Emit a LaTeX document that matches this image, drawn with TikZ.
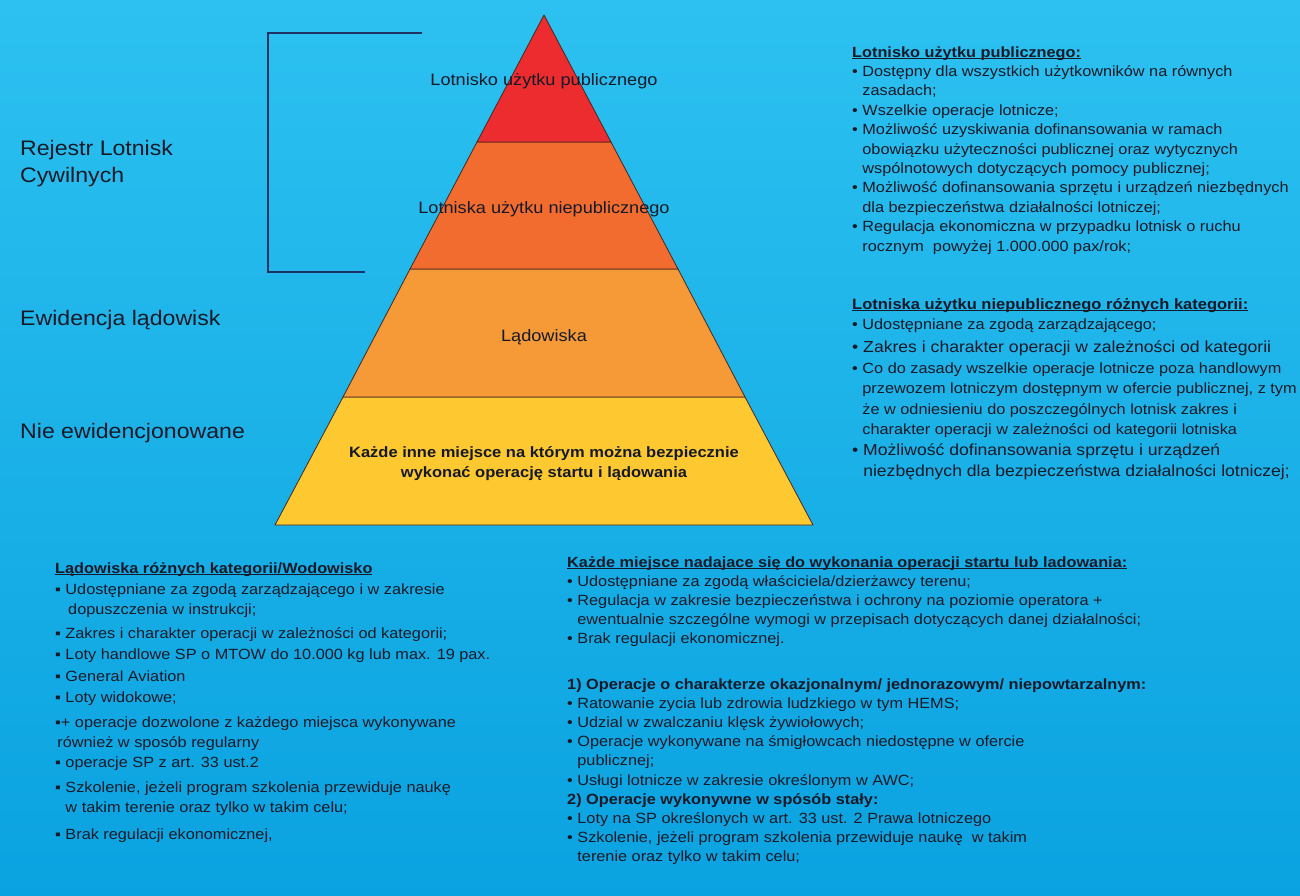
\documentclass[tikz,border=0pt]{standalone}
\usepackage{fontspec}
\setmainfont{Liberation Sans}
\usepackage{graphicx}
\definecolor{bgtop}{RGB}{44,193,240}
\definecolor{bgbot}{RGB}{10,162,224}
\definecolor{txt}{RGB}{22,26,40}
\definecolor{layA}{RGB}{236,44,46}
\definecolor{layB}{RGB}{242,108,48}
\definecolor{layC}{RGB}{246,154,56}
\definecolor{layD}{RGB}{253,200,48}
\definecolor{brk}{RGB}{30,50,100}
\newcommand{\sx}[1]{\scalebox{1.1}[1]{#1}}
\newcommand{\tb}[1]{\sx{\begin{tabular}[t]{@{}l@{}}#1\end{tabular}}}
\newcommand{\ulh}[1]{\setbox0\hbox{#1}\rlap{\rule[-2pt]{\wd0}{0.9pt}}\box0}
\newcommand{\ind}{\phantom{• }}
\renewcommand{\arraystretch}{1}
\tikzset{
  layer/.style={draw={rgb,255:red,70;green,40;blue,30}, line width=0.8pt, line join=round},
  plabel/.style={text=txt, inner sep=0pt, anchor=base, font=\fontsize{16.5}{20}\selectfont},
  side/.style={text=txt, inner sep=0pt, anchor=base west, font=\fontsize{21}{27}\selectfont},
  blk/.style={text=txt, inner sep=0pt, anchor=base west},
  bracket/.style={draw=brk, line width=1.2pt}
}
\begin{document}
\begin{tikzpicture}[x=1pt,y=-1pt]
\fill[top color=bgtop,bottom color=bgbot] (0,0) rectangle (1300,895);
\useasboundingbox (0,0) rectangle (1300,895);
% pyramid
\coordinate (apex) at (544,15);
\draw[layer, fill=layD] (343,397) -- (745,397) -- (813,525) -- (275,525) -- cycle;
\draw[layer, fill=layC] (410,269) -- (678,269) -- (745,397) -- (343,397) -- cycle;
\draw[layer, fill=layB] (477,142) -- (611,142) -- (678,269) -- (410,269) -- cycle;
\draw[layer, fill=layA] (apex) -- (611,142) -- (477,142) -- cycle;
\node[plabel] (l1) at (544,85) {\sx{Lotnisko użytku publicznego}};
\node[plabel] (l2) at (544,213) {\sx{Lotniska użytku niepublicznego}};
\node[plabel] (l3) at (544,341) {\sx{Lądowiska}};
\node[plabel, font=\fontsize{15}{20}\selectfont\bfseries] (l4) at (544,457) {\sx{Każde inne miejsce na którym można bezpiecznie}};
\node[plabel, font=\fontsize{15}{20}\selectfont\bfseries] (l5) at (544,477) {\sx{wykonać operację startu i lądowania}};
% bracket
\coordinate (bt) at (268,33);
\coordinate (btr) at (422,33);
\coordinate (bb) at (268,272);
\coordinate (bbr) at (365,272);
\draw[bracket] (btr) -- (bt) -- (bb) -- (bbr);
% left labels
\node[side] (s1) at (20,155) {\sx{Rejestr Lotnisk}};
\node[side] (s2) at (20,182) {\sx{Cywilnych}};
\node[side] (s3) at (20,325) {\sx{Ewidencja lądowisk}};
\node[side] (s4) at (20,438) {\sx{Nie ewidencjonowane}};
% right top block
\node[blk, font=\fontsize{14.8}{19.4}\selectfont] (rt) at (852,57) {\tb{%
\textbf{\ulh{Lotnisko użytku publicznego:}}\\
• Dostępny dla wszystkich użytkowników na równych\\
\ind zasadach;\\
• Wszelkie operacje lotnicze;\\
• Możliwość uzyskiwania dofinansowania w ramach\\
\ind obowiązku użyteczności publicznej oraz wytycznych\\
\ind wspólnotowych dotyczących pomocy publicznej;\\
• Możliwość dofinansowania sprzętu i urządzeń niezbędnych\\
\ind dla bezpieczeństwa działalności lotniczej;\\
• Regulacja ekonomiczna w przypadku lotnisk o ruchu\\
\ind rocznym \ powyżej 1.000.000 pax/rok;}};
% right middle block
\node[blk, font=\fontsize{14.8}{20.4}\selectfont] (rm) at (852,309) {\tb{%
{\fontsize{15}{20}\selectfont\textbf{\ulh{Lotniska użytku niepublicznego różnych kategorii:}}}\\
• Udostępniane za zgodą zarządzającego;\\[3pt]
{\fontsize{16}{20}\selectfont • Zakres i charakter operacji w zależności od kategorii}\\
• Co do zasady wszelkie operacje lotnicze poza handlowym\\
\ind przewozem lotniczym dostępnym w ofercie publicznej, z tym\\
\ind że w odniesieniu do poszczególnych lotnisk zakres i\\
\ind charakter operacji w zależności od kategorii lotniska\\[1pt]
{\fontsize{16}{20}\selectfont • Możliwość dofinansowania sprzętu i urządzeń}\\
{\fontsize{16}{20}\selectfont \ind niezbędnych dla bezpieczeństwa działalności lotniczej;}}};
% bottom left block
\node[blk, font=\fontsize{14.8}{20}\selectfont] (bl) at (55,573) {\tb{%
\textbf{\ulh{Lądowiska różnych kategorii/Wodowisko}}\\[1pt]
▪ Udostępniane za zgodą zarządzającego i w zakresie\\
\phantom{▪ }\,dopuszczenia w instrukcji;\\[4pt]
▪ Zakres i charakter operacji w zależności od kategorii;\\[1pt]
▪ Loty handlowe SP o MTOW do 10.000 kg lub max. 19 pax.\\[2pt]
▪ General Aviation\\[1pt]
▪ Loty widokowe;\\[5pt]
▪+ operacje dozwolone z każdego miejsca wykonywane\\
\hspace*{2pt}również w sposób regularny\\
▪ operacje SP z art. 33 ust.2\\[5pt]
▪ Szkolenie, jeżeli program szkolenia przewiduje naukę\\
\phantom{▪ }w takim terenie oraz tylko w takim celu;\\[7pt]
▪ Brak regulacji ekonomicznej,}};
% bottom right block
\node[blk, font=\fontsize{14.8}{19.2}\selectfont] (br) at (567,567) {\tb{%
\textbf{\ulh{Każde miejsce nadajace się do wykonania operacji startu lub ladowania:}}\\
• Udostępniane za zgodą właściciela/dzierżawcy terenu;\\
• Regulacja w zakresie bezpieczeństwa i ochrony na poziomie operatora +\\
\ind ewentualnie szczególne wymogi w przepisach dotyczących danej działalności;\\
• Brak regulacji ekonomicznej.\\[26pt]
\textbf{1) Operacje o charakterze okazjonalnym/ jednorazowym/ niepowtarzalnym:}\\
• Ratowanie zycia lub zdrowia ludzkiego w tym HEMS;\\
• Udzial w zwalczaniu klęsk żywiołowych;\\
• Operacje wykonywane na śmigłowcach niedostępne w ofercie\\
\ind publicznej;\\
• Usługi lotnicze w zakresie określonym w AWC;\\
\textbf{2) Operacje wykonywne w spósób stały:}\\
• Loty na SP określonych w art. 33 ust. 2 Prawa lotniczego\\
• Szkolenie, jeżeli program szkolenia przewiduje naukę \ w takim\\
\ind terenie oraz tylko w takim celu;}};
\end{tikzpicture}
\end{document}
